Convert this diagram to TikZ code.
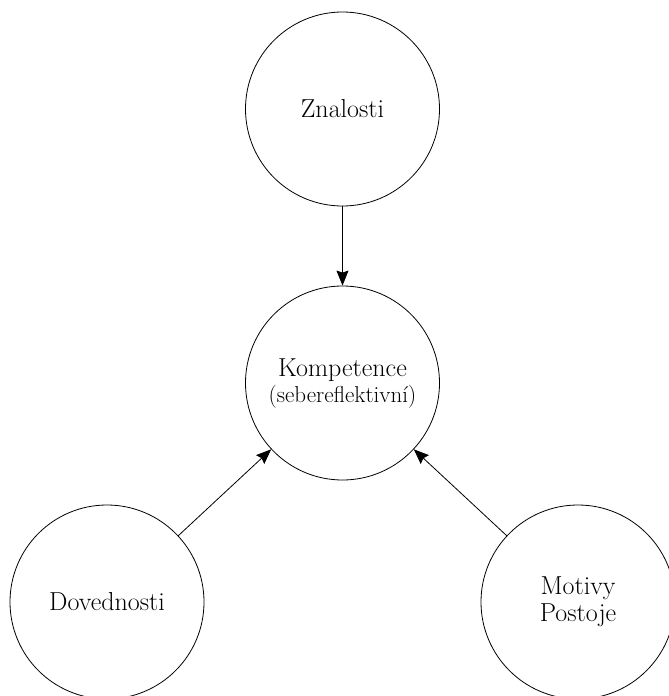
\documentclass[tikz,border=0pt]{standalone}
\usetikzlibrary{arrows.meta}
\begin{document}
\begin{tikzpicture}[x=1pt,y=-1pt,
  bubble/.style={draw, circle, minimum size=194pt, inner sep=0pt, line width=0.8pt, align=center, font=\fontsize{26}{27}\selectfont},
  conn/.style={line width=0.8pt, -{Stealth[length=15pt,width=12pt,inset=2pt]}}]
\useasboundingbox (0,0) rectangle (669,696);
\node[bubble] (zn) at (342.5,109) {Znalosti};
\node[bubble] (ko) at (342.5,383) {Kompetence\\[-1pt]{\fontsize{23}{27}\selectfont(sebereflektivní)}};
\node[bubble] (dv) at (107,602) {Dovednosti};
\node[bubble] (mo) at (578,602) {Motivy\\Postoje};
\draw[conn] (zn) -- (ko);
\draw[conn] (dv) -- (ko);
\draw[conn] (mo) -- (ko);
\end{tikzpicture}
\end{document}
